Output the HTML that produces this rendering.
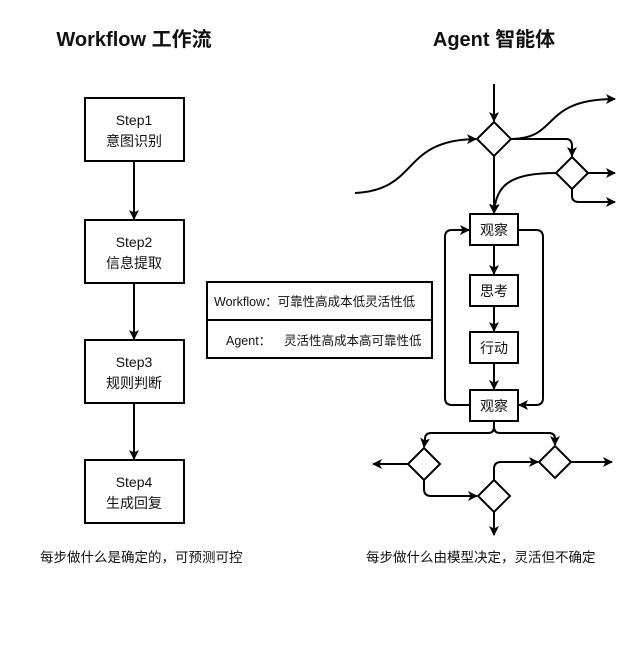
<!DOCTYPE html>
<html><head><meta charset="utf-8"><style>
body{margin:0;background:#fff;}
svg text{font-family:"Liberation Sans","Noto Sans CJK SC",sans-serif;fill:#111;}
</style></head><body>
<svg width="640" height="640" viewBox="0 0 640 640" xmlns="http://www.w3.org/2000/svg">
<defs><marker id="a" markerWidth="10" markerHeight="10" refX="9" refY="5" orient="auto" markerUnits="userSpaceOnUse"><path d="M0,0 L10,5 L0,10 L2.5,5 z" fill="#000"/></marker></defs>
<rect width="640" height="640" fill="#fff"/>
<text x="134" y="46" font-size="20" font-weight="bold" text-anchor="middle">Workflow 工作流</text>
<text x="494" y="46" font-size="20" font-weight="bold" text-anchor="middle">Agent 智能体</text>
<g fill="#fff" stroke="#000" stroke-width="2">
<rect x="85" y="98" width="99" height="63"/>
<rect x="85" y="220" width="99" height="63"/>
<rect x="85" y="340" width="99" height="63"/>
<rect x="85" y="460" width="99" height="63"/>
<rect x="207" y="282" width="225" height="76"/>
<line x1="207" y1="320" x2="432" y2="320"/>
</g>
<g font-size="14" text-anchor="middle">
<text x="134" y="125">Step1</text><text x="134" y="146">意图识别</text>
<text x="134" y="247">Step2</text><text x="134" y="268">信息提取</text>
<text x="134" y="367">Step3</text><text x="134" y="388">规则判断</text>
<text x="134" y="487">Step4</text><text x="134" y="508">生成回复</text>
</g>
<g stroke="#000" stroke-width="2" fill="none" marker-end="url(#a)">
<line x1="134" y1="161" x2="134" y2="219"/>
<line x1="134" y1="283" x2="134" y2="339"/>
<line x1="134" y1="403" x2="134" y2="459"/>
</g>
<g font-size="12.5">
<text x="214" y="306">Workflow：可靠性高成本低灵活性低</text>
<text x="226" y="345">Agent：</text><text x="284" y="345">灵活性高成本高可靠性低</text>
</g>
<text x="40" y="562" font-size="13.5">每步做什么是确定的，可预测可控</text>
<text x="366" y="562" font-size="13.5">每步做什么由模型决定，灵活但不确定</text>
<!-- agent -->
<g fill="#fff" stroke="#000" stroke-width="2">
<path d="M494,122 L511,139 L494,156 L477,139 Z"/>
<path d="M572,157 L588,173 L572,189 L556,173 Z"/>
<path d="M424,448 L440,464 L424,480 L408,464 Z"/>
<path d="M494,480 L510,496 L494,512 L478,496 Z"/>
<path d="M555,446 L571,462 L555,478 L539,462 Z"/>
<rect x="470" y="214" width="48" height="31"/>
<rect x="470" y="275" width="48" height="31"/>
<rect x="470" y="332" width="48" height="31"/>
<rect x="470" y="390" width="48" height="31"/>
</g>
<g font-size="14" text-anchor="middle">
<text x="494" y="235">观察</text><text x="494" y="296">思考</text><text x="494" y="353">行动</text><text x="494" y="411">观察</text>
</g>
<g stroke="#000" stroke-width="2" fill="none" marker-end="url(#a)">
<line x1="494" y1="84" x2="494" y2="121"/>
<path d="M355,193 C420,190 400,140 476,139"/>
<path d="M511,139 C560,139 540,99 615,99"/>
<path d="M511,139 L566,139 Q572,139 572,146 L572,156"/>
<line x1="588" y1="173" x2="615" y2="173"/>
<path d="M572,189 L572,196 Q572,202 579,202 L615,202"/>
<line x1="494" y1="156" x2="494" y2="213"/>
<path d="M556,173 C510,173 496,185 494,213"/>
<line x1="494" y1="245" x2="494" y2="274"/>
<line x1="494" y1="306" x2="494" y2="331"/>
<line x1="494" y1="363" x2="494" y2="389"/>
<path d="M470,405 L452,405 Q445,405 445,398 L445,237 Q445,230 452,230 L469,230"/>
<path d="M518,230 L536,230 Q543,230 543,237 L543,398 Q543,405 536,405 L519,405"/>
<path d="M494,421 L494,427 Q494,433 488,433 L431,433 Q425,433 425,439 L424,447"/>
<path d="M494,421 L494,427 Q494,433 500,433 L549,433 Q555,433 555,439 L555,445"/>
<line x1="408" y1="464" x2="373" y2="464"/>
<path d="M424,480 L424,489 Q424,496 431,496 L477,496"/>
<path d="M494,480 L494,469 Q494,462 501,462 L538,462"/>
<line x1="571" y1="462" x2="612" y2="462"/>
<line x1="494" y1="512" x2="494" y2="535"/>
</g>
</svg>
</body></html>
